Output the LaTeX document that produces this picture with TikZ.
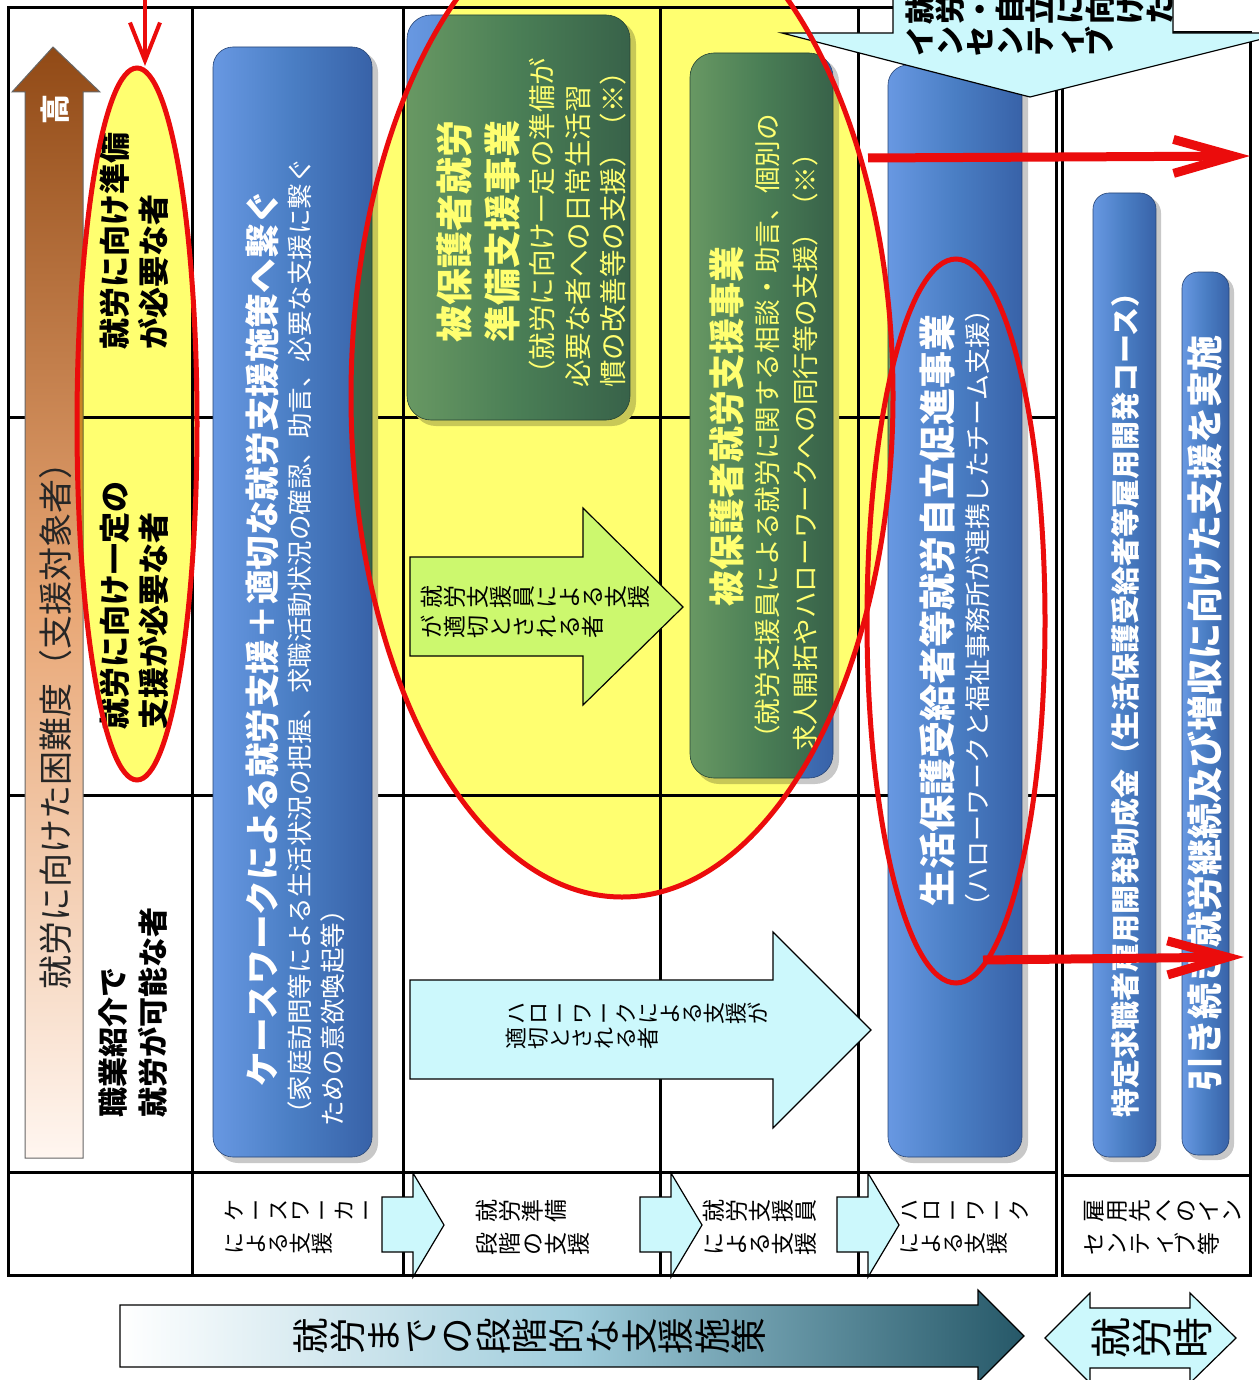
\documentclass[tikz,border=0pt]{standalone}
\usepackage{fontspec}
\setmainfont{Noto Sans CJK JP}
\usetikzlibrary{arrows.meta}
\definecolor{ylw}{RGB}{255,255,112}
\definecolor{blueL}{RGB}{104,152,226}
\definecolor{blueM}{RGB}{74,126,196}
\definecolor{blueD}{RGB}{56,98,168}
\definecolor{cyanc}{RGB}{204,248,252}
\definecolor{brownD}{RGB}{145,74,22}
\definecolor{peach}{RGB}{232,166,116}
\definecolor{brownL}{RGB}{255,246,240}
\definecolor{tealD}{RGB}{38,88,104}
\definecolor{midteal}{RGB}{160,205,220}
\definecolor{redc}{RGB}{235,12,12}
\definecolor{shadowc}{RGB}{200,200,200}
\newcommand\fs[2]{\fontsize{#1}{#2}\selectfont}
\newcommand\stkchar[1]{\hbox to 1em{\hss\vrule height .88em depth .12em width 0pt\relax #1\hss}}
\ExplSyntaxOn
\NewDocumentCommand \stk { m } { \vtop { \offinterlineskip \tl_map_function:nN {#1} \stkchar } }
\ExplSyntaxOff
\newcommand\twostk[3]{\hbox{\stk{#3}\hskip#1\stk{#2}}}
\begin{document}
\begin{tikzpicture}[x=0.5pt,y=-0.5pt,
  grid/.style={line width=1.5pt,black},
  bluebox/.style={rounded corners=#1, left color=blueL, right color=blueD, middle color=blueM, draw=blueD!70!black, line width=0.3pt},
  bluebox/.default=10pt,
  shadowbox/.style={fill=shadowc, rounded corners=#1},
  shadowbox/.default=10pt,
  cyanarrow/.style={fill=cyanc, draw=black, line width=0.6pt},
  rtxt/.style={rotate=90, inner sep=0pt, anchor=west, align=left},
  stxt/.style={rotate=90, inner sep=0pt, anchor=north},
  redstroke/.style={draw=redc, line width=2.5pt},
  redarrow/.style={draw=redc, line width=4.5pt, -{Straight Barb[length=30pt,width=17pt]}},
]
\useasboundingbox (0,0) rectangle (1258,1380);
\fill[white] (0,0) rectangle (1258,1380);

% grid
\draw[grid] (8,8) rectangle (1056,1275);
\foreach \yy in {417,795,1172} \draw[grid] (8,\yy) -- (1056,\yy);
\foreach \xx in {192,403,660,858} \draw[grid] (\xx,8) -- (\xx,1275);
\draw[grid] (1062,33) rectangle (1250,1275);
\draw[grid] (1062,1175) -- (1250,1175);

% brown arrow
\shade[top color=brownD, bottom color=brownL, middle color=peach, draw=black!60, line width=0.5pt]
  (25,1158) -- (25,92) -- (12,92) -- (53,47) -- (100,92) -- (83,92) -- (83,1158) -- cycle;
\node[rtxt, anchor=center, font=\bfseries\fs{15}{15}, text=white] (hi) at (55,110) {高};
\node[rtxt, font=\fs{17}{20}, text=black!85] (diff) at (56,990) {就労に向けた困難度（支援対象者）};

% col1 texts
\node[rtxt, font=\bfseries\fs{15.5}{19.5}] (c1a) at (134,350) {就労に向け準備\\が必要な者};
\node[rtxt, font=\bfseries\fs{15.5}{19.5}] (c1b) at (134,730) {就労に向け一定の\\支援が必要な者};
\node[rtxt, font=\bfseries\fs{15}{20}] (c1c) at (133,1118) {職業紹介で\\就労が可能な者};

% col2
\path[shadowbox] (218,52) rectangle (378,1163);
\path[bluebox] (213,47) rectangle (372,1157);
\node[rtxt, font=\bfseries\fs{17.3}{20}, text=white] (c2t) at (262,1087) {ケースワークによる就労支援＋適切な就労支援施策へ繋ぐ};
\node[rtxt, font=\fs{12.75}{16.5}, text=white] (c2s) at (316,1127) {（家庭訪問等による生活状況の把握、求職活動状況の確認、助言、必要な支援に繋ぐ\\ための意欲喚起等）};

% col3
\path[shadowbox=12pt] (412,20) rectangle (636,426);
\path[bluebox=12pt] (407,15) rectangle (630,420);
\node[rtxt, anchor=center, font=\bfseries\fs{18.5}{24}, text=white] (c3t) at (479,231) {被保護者就労\\準備支援事業};
\node[rtxt, font=\fs{13.75}{17.75}, text=white] (c3s) at (578,388) {（就労に向け一定の準備が\\必要な者への日常生活習\\慣の改善等の支援）（※）};
\path[cyanarrow] (410,557) -- (583,557) -- (583,508) -- (683,607) -- (583,705) -- (583,656) -- (410,656) -- cycle;
\node[stxt, font=\fs{11.5}{11.5}] (c3a) at (420,612) {\twostk{3.5pt}{就労支援員による支援}{が適切とされる者}};

% col4
\path[shadowbox=12pt] (695,58) rectangle (839,784);
\path[bluebox=12pt] (690,53) rectangle (833,778);
\node[rtxt, font=\bfseries\fs{18}{20}, text=white] (c4t) at (727,607) {被保護者就労支援事業};
\node[rtxt, font=\fs{13.3}{19}, text=white] (c4s) at (786,752) {（就労支援員による就労に関する相談・助言、個別の\\求人開拓やハローワークへの同行等の支援）（※）};

% hello work arrow
\path[cyanarrow] (410,980) -- (773,980) -- (773,932) -- (871,1030) -- (773,1128) -- (773,1079) -- (410,1079) -- cycle;
\node[stxt, font=\fs{11}{11}] (hwa) at (505,1026) {\twostk{1.5pt}{ハローワークによる支援が}{適切とされる者}};

% col5
\path[shadowbox] (893,70) rectangle (1028,1163);
\path[bluebox] (888,65) rectangle (1022,1157);
\node[rtxt, font=\bfseries\fs{18.5}{20}, text=white] (c5t) at (937,907) {生活保護受給者等就労自立促進事業};
\node[rtxt, font=\fs{13}{16}, text=white] (c5s) at (978,920) {（ハローワークと福祉事務所が連携したチーム支援）};

% right boxes
\path[shadowbox=8pt] (1097,197) rectangle (1161,1162);
\path[bluebox=8pt] (1093,193) rectangle (1156,1157);
\node[rtxt, font=\bfseries\fs{14.5}{16}, text=white] (rA) at (1125,1118) {特定求職者雇用開発助成金（生活保護受給者等雇用開発コース）};
\path[shadowbox=8pt] (1186,276) rectangle (1234,1160);
\path[bluebox=8pt] (1182,272) rectangle (1229,1155);
\node[rtxt, font=\bfseries\fs{18}{20}, text=white] (rB) at (1205,1092) {引き続き就労継続及び増収に向けた支援を実施};

% bottom row arrows and labels
\foreach \a in {382,640,837}
  \path[cyanarrow] (\a,1197) -- ++(31,0) -- ++(0,-24) -- ++(31,52) -- ++(-31,52) -- ++(0,-25) -- ++(-31,0) -- cycle;
\node[stxt, font=\fs{11}{11}] (b1) at (223,1227) {\twostk{5.5pt}{ケースワーカー}{による支援}};
\node[stxt, font=\fs{11.5}{11.5}] (b2) at (475,1227) {\twostk{5pt}{就労準備}{段階の支援}};
\node[stxt, font=\fs{11.5}{11.5}] (b3) at (702,1227) {\twostk{5pt}{就労支援員}{による支援}};
\node[stxt, font=\fs{11}{11}] (b4) at (898,1227) {\twostk{5.5pt}{ハローワーク}{による支援}};
\node[stxt, font=\fs{11.5}{11.5}] (b5) at (1082,1227) {\twostk{5pt}{雇用先へのイン}{センティブ等}};

% bottom big arrow
\shade[left color=white, right color=tealD, middle color=midteal, draw=black, line width=0.6pt]
  (120,1305) -- (978,1305) -- (978,1290) -- (1024,1336) -- (978,1382) -- (978,1367) -- (120,1367) -- cycle;
\node[stxt, font=\fs{18.25}{18.25}] (bigt) at (292,1336) {\stk{就労までの段階的な支援施策}};

% double arrow
\path[cyanarrow] (1045,1338) -- (1090,1293) -- (1090,1308) -- (1190,1308) -- (1190,1293) -- (1236,1338) -- (1190,1383) -- (1190,1368) -- (1090,1368) -- (1090,1383) -- cycle;
\node[stxt, font=\fs{20.5}{20.5}] (jt) at (1090,1338) {\stk{就労時}};

% yellow highlights (multiply)
\begin{scope}[blend mode=multiply]
\fill[ylw] (137,424) ellipse [x radius=60, y radius=356];
\fill[ylw] (622,396) ellipse [x radius=271, y radius=501];
\end{scope}

% callout
\path[cyanarrow] (893,-60) -- (893,33) -- (782,33) -- (1030,97) -- (1286,33) -- (1173,33) -- (1173,-60) -- cycle;
\node[stxt, font=\bfseries\fs{15}{15}] (inc) at (905,26) {\twostk{1pt}{就労・自立に向けた}{インセンティブ}};

% red outlines and arrows
\draw[redstroke] (137,424) ellipse [x radius=60, y radius=356];
\draw[redstroke] (622,396) ellipse [x radius=271, y radius=501];
\draw[redstroke] (956,621) ellipse [x radius=89, y radius=362];
\coordinate (t0) at (145,-5);
\coordinate (t1) at (145,66);
\draw[redc, line width=2pt, -{Straight Barb[length=19pt,width=15pt]}] (t0) -- (t1);
\coordinate (a1s) at (868,158);
\coordinate (a1e) at (1250,156);
\draw[redarrow] (a1s) -- (a1e);
\coordinate (a2s) at (983,960);
\coordinate (a2e) at (1244,957);
\draw[redarrow] (a2s) -- (a2e);
\end{tikzpicture}
\end{document}
